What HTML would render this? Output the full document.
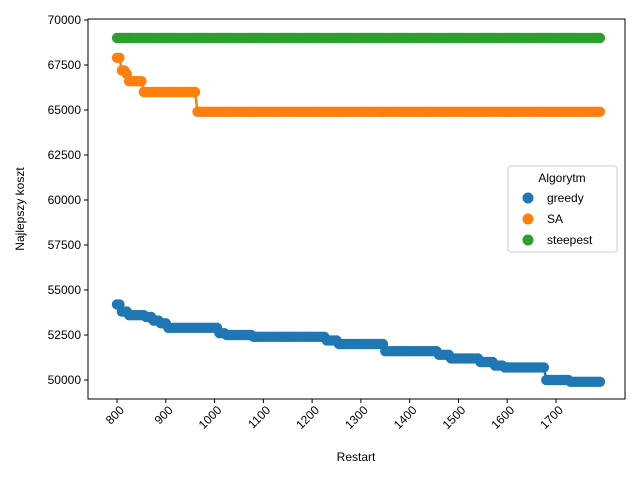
<!DOCTYPE html>
<html><head><meta charset="utf-8"><style>
body{margin:0;background:#fff;font-family:"Liberation Sans",sans-serif}
svg text{font-family:"Liberation Sans",sans-serif;fill:#000}
</style></head><body>
<svg id="c" width="640" height="480" xmlns="http://www.w3.org/2000/svg"></svg>
<script>
const xTicks=[800,900,1000,1100,1200,1300,1400,1500,1600,1700];
const yTicks=[50000,52500,55000,57500,60000,62500,65000,67500,70000];
const seriesNames=["greedy","SA","steepest"];
const colors=["#1f77b4","#ff7f0e","#2ca02c"];
const greedyBreaks=[800,810,825,860,875,890,905,1010,1025,1080,1230,1255,1350,1460,1485,1545,1575,1595,1680,1730];
const greedyVals=[54200,53800,53600,53500,53300,53150,52900,52600,52500,52400,52200,52000,51600,51400,51200,51000,50800,50700,50000,49900];
const saBreaks=[800,810,820,825,855,965];
const saVals=[67900,67200,67000,66600,66000,64900];
const steepBreaks=[800];
const steepVals=[69000];
const restartStart=800, restartEnd=1790, restartStep=5;
const svg=document.getElementById('c');const NS="http://www.w3.org/2000/svg";
const L=88,R=625,T=19,B=399;
const X=v=>117+(v-800)*0.4878, Y=v=>20+(70000-v)*0.018;
function mk(t,a,p){const e=document.createElementNS(NS,t);for(const k in a)e.setAttribute(k,a[k]);(p||svg).appendChild(e);return e;}
function lookup(br,vals,x){let v=vals[0];for(let i=0;i<br.length;i++)if(x>=br[i])v=vals[i];return v;}
const plot=mk('g',{});
[[steepBreaks,steepVals],[saBreaks,saVals],[greedyBreaks,greedyVals]].forEach((s,idx)=>{
 const si=[2,1,0][idx];
 const g=mk('g',{fill:colors[si]},plot);
 
 
 const pts=[];
 for(let x=restartStart;x<=restartEnd;x+=restartStep)pts.push([X(x),Y(lookup(s[0],s[1],x))]);
 const ln=mk('polyline',{points:pts.map(p=>p.join(',')).join(' '),fill:'none',stroke:colors[si],'stroke-width':2.5},g);
 
 
 pts.forEach(p=>{
  const c=mk('circle',{cx:p[0],cy:p[1],r:5.2},g);
  
  
 });
});
const fr=mk('rect',{x:L,y:T,width:R-L,height:B-T,fill:'none',stroke:'#000','stroke-width':1});

xTicks.forEach(v=>{const x=X(v);mk('line',{x1:x,x2:x,y1:B,y2:B+4,stroke:'#000'});
 const ax=x+5, ay=B+9;
 const t=mk('text',{x:ax,y:ay+4,'font-size':12,'text-anchor':'end',transform:`rotate(-45 ${ax} ${ay})`});t.textContent=v;
 });
yTicks.forEach(v=>{const y=Y(v);mk('line',{x1:L-4,x2:L,y1:y,y2:y,stroke:'#000'});
 const t=mk('text',{x:L-7,y:y+4,'font-size':12,'text-anchor':'end'});t.textContent=v;
 });
let t=mk('text',{x:356,y:461,'font-size':12,'text-anchor':'middle'});t.textContent='Restart';

t=mk('text',{x:24,y:209,'font-size':12,'text-anchor':'middle',transform:'rotate(-90 24 209)'});t.textContent='Najlepszy koszt';

const lg=mk('g',{});
mk('rect',{x:508,y:166,width:109,height:86,rx:3,fill:'#fff','fill-opacity':0.8,stroke:'#ccc'},lg);
t=mk('text',{x:562,y:182,'font-size':12,'text-anchor':'middle'},lg);t.textContent='Algorytm';
seriesNames.forEach((n,i)=>{const y=198+i*21;
 const e=mk('g',{},lg);
 mk('circle',{cx:528,cy:y,r:5.5,fill:colors[i]},e);
 const tt=mk('text',{x:547,y:y+4,'font-size':12},e);tt.textContent=n;});
</script>
</body></html>
